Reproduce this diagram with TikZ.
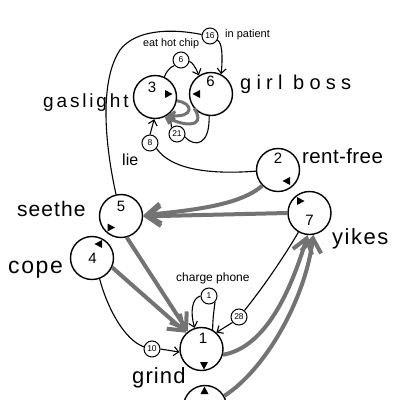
\documentclass[tikz,border=0pt]{standalone}
\usepackage{fontspec}
\setmainfont{Liberation Sans}
\usetikzlibrary{arrows.meta}
\definecolor{edgegrey}{RGB}{115,115,115}
\begin{document}
\begin{tikzpicture}[x=1pt,y=-1pt,
  big/.style={circle,draw,line width=1.4pt,minimum size=43pt,inner sep=0pt},
  small/.style={circle,draw,line width=1pt,minimum size=16pt,inner sep=0pt,font=\fontsize{8.5}{9}\selectfont},
  num/.style={inner sep=0pt,font=\fontsize{15}{16}\selectfont},
  lab/.style={inner sep=0pt,anchor=base west},
  plain/.style={line width=1.1pt},
  thin/.style={line width=1.1pt,-{Straight Barb[length=5pt,width=9pt]}},
  thick/.style={line width=4pt,draw=edgegrey,-{Straight Barb[length=14pt,width=20pt]}},
  loopg/.style={line width=3pt,draw=edgegrey,-{Straight Barb[length=5pt,width=9pt]}},
]
\useasboundingbox (0,0) rectangle (400,400);
\clip (0,0) rectangle (400,400);

% big nodes
\node[big] (n3) at (155,97) {};
\node[big] (n6) at (211,94) {};
\node[big] (n2) at (278,170) {};
\node[big] (n7) at (309.5,213) {};
\node[big] (n5) at (121,216) {};
\node[big] (n4) at (92,258) {};
\node[big] (n1) at (201.5,349) {};
\node[big] (nb) at (205,407) {};

% numbers inside
\node[num] (t3) at (152,87.5) {3};
\node[num] (t6) at (210.5,81) {6};
\node[num] (t2) at (278,158) {2};
\node[num] (t7) at (309.5,220.5) {7};
\node[num] (t5) at (121,206.3) {5};
\node[num] (t4) at (92.5,258) {4};
\node[num] (t1) at (203,338) {1};

% markers
\fill (165,90) -- (165,98) -- (172.5,94) -- cycle;
\fill (200,90) -- (200,98) -- (192.5,94) -- cycle;
\fill (290,177) -- (290,185) -- (282.5,181) -- cycle;
\fill (297,197) -- (297,205) -- (304.5,201) -- cycle;
\fill (107.5,223.5) -- (107.5,231.5) -- (115,227.5) -- cycle;
\fill (102,240) -- (102,248) -- (94.5,244) -- cycle;
\fill (200,362) -- (208,362) -- (204,369.5) -- cycle;
\fill (200.5,394) -- (208.5,394) -- (204.5,386.5) -- cycle;

% small nodes
\node[small] (s16) at (210,36) {16};
\node[small] (s6) at (181,60) {6};
\node[small] (s21) at (177,134) {21};
\node[small] (s8) at (150,143) {8};
\node[small] (s1) at (209,296) {1};
\node[small] (s28) at (239,317) {28};
\node[small] (s10) at (152,349) {10};

% labels
\node[lab,font=\fontsize{20}{24}\selectfont\addfontfeature{LetterSpace=26}] (lgb) at (240,89) {girl boss};
\node[lab,font=\fontsize{19}{23}\selectfont\addfontfeature{LetterSpace=15}] (lgl) at (43,107) {gaslight};
\node[lab,font=\fontsize{21}{25}\selectfont\addfontfeature{LetterSpace=5}] (lse) at (17,216) {seethe};
\node[lab,font=\fontsize{23}{27}\selectfont\addfontfeature{LetterSpace=7}] (lco) at (8,273) {cope};
\node[lab,font=\fontsize{22}{26}\selectfont\addfontfeature{LetterSpace=5}] (lgr) at (132,383) {grind};
\node[lab,font=\fontsize{22}{26}\selectfont\addfontfeature{LetterSpace=7}] (lyi) at (332,244) {yikes};
\node[lab,font=\fontsize{20.5}{24}\selectfont\addfontfeature{LetterSpace=2}] (lrf) at (302,163) {rent-free};
\node[lab,font=\fontsize{16}{19}\selectfont] (lli) at (122,165) {lie};
\node[lab,font=\fontsize{11}{13}\selectfont] (lip) at (225,37.5) {in patient};
\node[lab,font=\fontsize{10.8}{13}\selectfont] (leh) at (143,46.7) {eat hot chip};
\node[lab,font=\fontsize{12}{14}\selectfont] (lcp) at (176,281.7) {charge phone};

% thin black edges
\draw[plain] (n5.103) .. controls (104,140) and (100,80) .. (120,50) .. controls (135,30) and (170,28) .. (s16.170);
\draw[thin] (s16.-30) .. controls (222,42) and (223,56) .. (n6.63);
\draw[plain] (n3.65) .. controls (166,72) and (170,67) .. (s6.220);
\draw[thin] (s6.-10) .. controls (192,62) and (195,66) .. (n6.123);
\draw[plain] (n6.-95) .. controls (210,145) and (195,148) .. (s21.-20);
\draw[thin] (s21.130) -- (n3.-48);
\draw[plain] (n2.183) .. controls (205,175) and (170,168) .. (s8.-40);
\draw[thin] (s8.90) -- (n3.-92);
\draw[plain] (n4.-70) .. controls (108,310) and (125,340) .. (s10.165);
\draw[thin] (s10.0) -- (n1.188);
\draw[plain] (n7.240) .. controls (285,255) and (265,285) .. (s28.50);
\draw[thin] (s28.220) -- (n1.48);
\draw[plain] (n1.60) .. controls (213,318) .. (s1.-45);
\draw[thin] (s1.180) .. controls (192,298) and (190,312) .. (n1.108);

% grey loop between 3 and 6
\draw[loopg] (n3.-10) .. controls (194,103) and (194,118) .. (n3.-55);
\draw[loopg] (n6.-140) .. controls (204,122) and (195,130) .. (n3.-64);

% thick grey edges
\draw[thick] (n2.225) .. controls (240,205) and (195,210) .. (n5.2);
\draw[thick] (n7.180) -- (n5.-1);
\draw[thick] (n5.-75) -- (n1.128);
\draw[thick] (n4.-25) -- (n1.133);
\draw[thick] (n1.-15) .. controls (262,348) and (288,300) .. (n7.-95);
\draw[thick] (nb.30) .. controls (265,370) and (305,300) .. (n7.-80);
\end{tikzpicture}
\end{document}
